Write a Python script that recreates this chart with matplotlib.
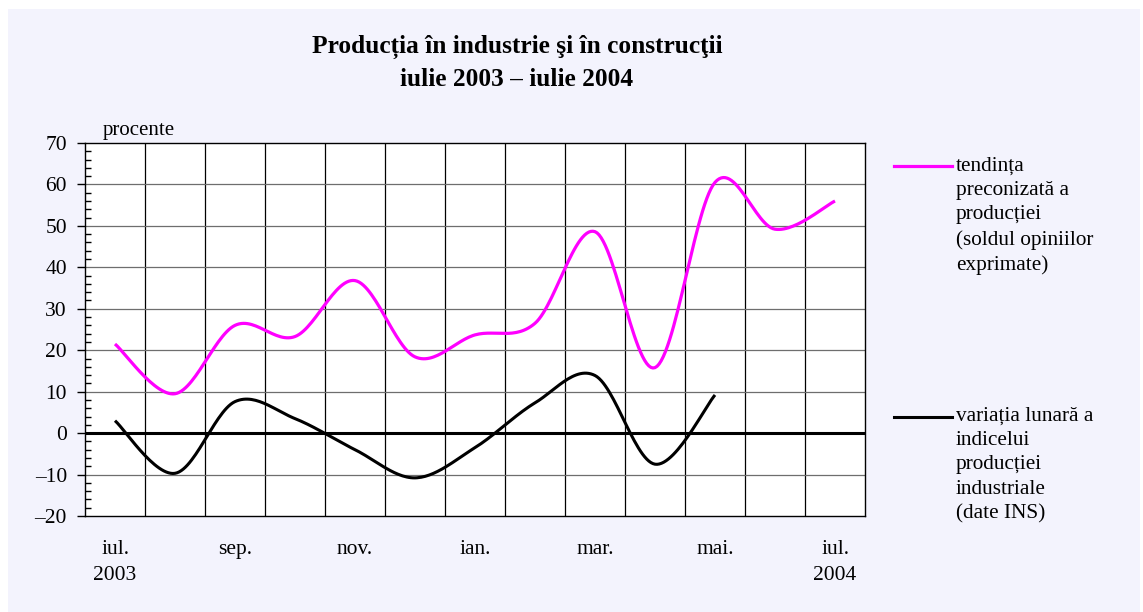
import numpy as np
import matplotlib.pyplot as plt
from matplotlib.patches import Rectangle
from matplotlib.ticker import MultipleLocator

plt.rcParams['font.family'] = ['Liberation Serif', 'DejaVu Serif']

months = ['iul.', 'aug.', 'sep.', 'oct.', 'nov.', 'dec.', 'ian.', 'feb.', 'mar.', 'apr.', 'mai.', 'iun.', 'iul.']
tick_labels = ['iul.\n2003', 'sep.', 'nov.', 'ian.', 'mar.', 'mai.', 'iul.\n2004']
tendinta = [21.5, 9.5, 26, 23.3, 36.8, 18.4, 23.7, 26.5, 48.6, 15.8, 60.5, 49.2, 56]
variatia = [3, -9.7, 7.6, 3.5, -4, -10.8, -3.5, 7.3, 13.9, -7.5, 9.2]
yticks = [-20, -10, 0, 10, 20, 30, 40, 50, 60, 70]

W, H = 1143, 612


def smooth(y, n=30):
    # catmull-rom, roughly what excel does for "smoothed line"
    x = np.arange(len(y), dtype=float)
    y = np.asarray(y, dtype=float)
    px = np.concatenate([[x[0]], x, [x[-1]]])
    py = np.concatenate([[y[0]], y, [y[-1]]])
    xs, ys = [], []
    for i in range(1, len(px) - 2):
        t = np.linspace(0, 1, n)
        for p, out in ((px, xs), (py, ys)):
            p0, p1, p2, p3 = p[i - 1], p[i], p[i + 1], p[i + 2]
            out.append(0.5 * (2 * p1 + (-p0 + p2) * t
                              + (2 * p0 - 5 * p1 + 4 * p2 - p3) * t ** 2
                              + (-p0 + 3 * p1 - 3 * p2 + p3) * t ** 3))
    return np.concatenate(xs), np.concatenate(ys)


def fx(x):
    return x / W


def fy(y):
    return 1 - y / H


fig = plt.figure(figsize=(W / 100, H / 100), dpi=100, facecolor='white')
fig.patches.append(Rectangle((fx(8), 0), fx(1140) - fx(8), fy(9), transform=fig.transFigure,
                             facecolor='#f3f3fd', edgecolor='none', zorder=-10))

ax = fig.add_axes([fx(85), fy(516), fx(865) - fx(85), fy(143) - fy(516)])
ax.set_facecolor('white')
ax.set_xlim(-0.5, len(months) - 0.5)
ax.set_ylim(-20, 70)

for v in np.arange(0.5, len(months) - 0.5):
    ax.axvline(v, color='black', lw=0.9, zorder=1)
for v in yticks[1:-1]:
    if v != 0:
        ax.axhline(v, color='#6e6e6e', lw=0.9, zorder=1)
ax.axhline(0, color='black', lw=2.2, zorder=2)

xs, ys = smooth(tendinta)
ax.plot(xs, ys, color='#ff00ff', lw=2.3, zorder=3, solid_capstyle='butt')
xs, ys = smooth(variatia)
ax.plot(xs, ys, color='black', lw=2.2, zorder=3, solid_capstyle='butt')

for s in ax.spines.values():
    s.set_color('black')
    s.set_linewidth(1.0)

ax.set_yticks(yticks)
ax.set_yticklabels([str(v).replace('-', '–') for v in yticks], fontsize=15.5)
ax.yaxis.set_minor_locator(MultipleLocator(2))
ax.tick_params(axis='y', which='major', direction='out', length=6, width=1, pad=7)
ax.tick_params(axis='y', which='minor', direction='in', length=4, width=1)
ax.set_xticks(range(0, len(months), 2))
ax.set_xticklabels(tick_labels, fontsize=15.5, linespacing=1.55)
ax.tick_params(axis='x', length=0, pad=17)

fig.text(fx(517), fy(47), 'Producția în industrie şi în construcţii', ha='center', va='center',
         fontsize=18.3, fontweight='bold')
fig.text(fx(517), fy(79), 'iulie 2003 – iulie 2004', ha='center', va='center',
         fontsize=18.3, fontweight='bold')
fig.text(fx(103), fy(130), 'procente', ha='left', va='center', fontsize=15)

# legend
fig.add_artist(plt.Line2D([fx(894), fx(952)], [fy(166), fy(166)], color='#ff00ff', lw=2.3,
                          transform=fig.transFigure))
fig.text(fx(956), fy(157), 'tendința\npreconizată a\nproducției\n(soldul opiniilor\nexprimate)',
         ha='left', va='top', fontsize=15.3, linespacing=1.37)
fig.add_artist(plt.Line2D([fx(894), fx(952)], [fy(417), fy(417)], color='black', lw=2.2,
                          transform=fig.transFigure))
fig.text(fx(956), fy(407), 'variația lunară a\nindicelui\nproducției\nindustriale\n(date INS)',
         ha='left', va='top', fontsize=15.3, linespacing=1.37)

fig.savefig('out.png', dpi=100, facecolor=fig.get_facecolor())
